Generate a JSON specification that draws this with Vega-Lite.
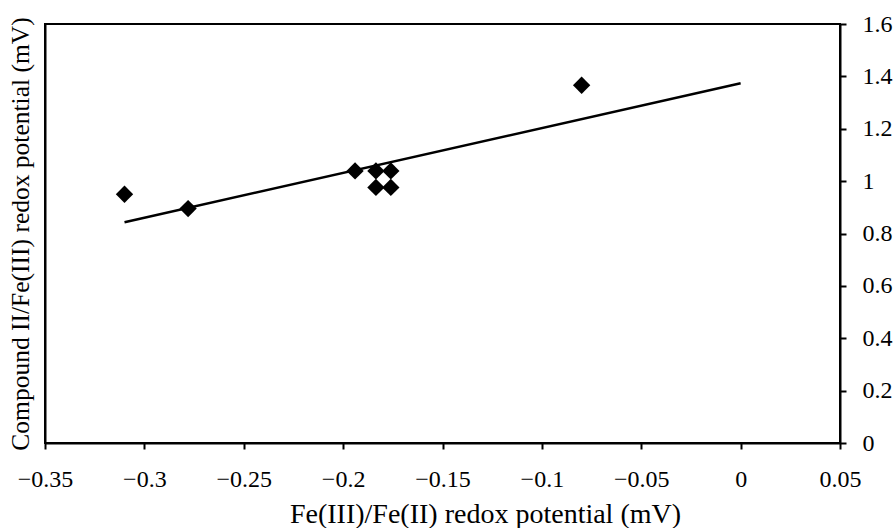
{
  "$schema": "https://vega.github.io/schema/vega-lite/v6.json",
  "width": 795,
  "height": 419,
  "autosize": {"type": "none"},
  "padding": {"left": 45, "top": 24, "right": 56, "bottom": 85},
  "background": "white",
  "config": {
    "view": {"stroke": "black", "strokeWidth": 2},
    "axis": {
      "grid": false,
      "labelFont": "Liberation Serif",
      "titleFont": "Liberation Serif",
      "labelFontSize": 24,
      "titleFontSize": 28,
      "labelColor": "black",
      "titleColor": "black",
      "titleFontWeight": "normal",
      "domainColor": "black",
      "domainWidth": 2,
      "tickColor": "black",
      "tickWidth": 2,
      "tickSize": 6
    }
  },
  "datasets": {
    "points": [
      {"x": -0.31, "y": 0.95},
      {"x": -0.278, "y": 0.895},
      {"x": -0.194, "y": 1.039},
      {"x": -0.1835, "y": 1.039},
      {"x": -0.176, "y": 1.039},
      {"x": -0.1835, "y": 0.976},
      {"x": -0.176, "y": 0.976},
      {"x": -0.08, "y": 1.366}
    ],
    "trend": [
      {"x": -0.31, "y": 0.843},
      {"x": 0.0, "y": 1.374}
    ]
  },
  "layer": [
    {
      "data": {"name": "trend"},
      "mark": {"type": "line", "color": "black", "strokeWidth": 2.5},
      "encoding": {
        "x": {
          "field": "x", "type": "quantitative",
          "scale": {"domain": [-0.35, 0.05], "nice": false, "zero": false},
          "axis": {
            "orient": "bottom",
            "title": "Fe(III)/Fe(II) redox potential (mV)",
            "values": [-0.35, -0.3, -0.25, -0.2, -0.15, -0.1, -0.05, 0, 0.05],
            "format": "~g",
            "labelPadding": 18,
            "titlePadding": 9,
            "titleX": 440,
            "labelFlush": false,
            "labelOverlap": false
          }
        },
        "y": {
          "field": "y", "type": "quantitative",
          "scale": {"domain": [0, 1.6], "nice": false},
          "axis": {
            "orient": "left",
            "title": "Compound II/Fe(III) redox potential (mV)",
            "titleFontSize": 25.5,
            "labels": false,
            "ticks": false,
            "titlePadding": 12
          }
        }
      }
    },
    {
      "data": {"name": "points"},
      "mark": {"type": "point", "shape": "diamond", "filled": true, "color": "black", "opacity": 1, "size": 300},
      "encoding": {
        "x": {
          "field": "x", "type": "quantitative",
          "scale": {"domain": [-0.35, 0.05], "nice": false, "zero": false}
        },
        "y": {
          "field": "y", "type": "quantitative",
          "scale": {"domain": [0, 1.6], "nice": false},
          "axis": {
            "orient": "right",
            "title": null,
            "values": [0, 0.2, 0.4, 0.6, 0.8, 1, 1.2, 1.4, 1.6],
            "format": "~g",
            "labelPadding": 16,
            "labelFlush": false,
            "labelOverlap": false
          }
        }
      }
    }
  ],
  "resolve": {"scale": {"y": "independent"}, "axis": {"y": "independent"}}
}
